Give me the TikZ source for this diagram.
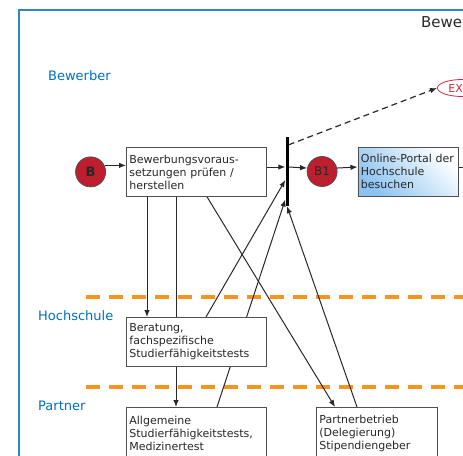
\documentclass[tikz,border=0pt]{standalone}
\usepackage{fontspec}
\setmainfont{DejaVu Sans}
\usetikzlibrary{arrows.meta}
\usetikzlibrary{positioning}
\usetikzlibrary{shapes.geometric}
\definecolor{poolblue}{RGB}{46,134,204}
\definecolor{lanetext}{RGB}{0,112,192}
\definecolor{laneorange}{RGB}{247,148,30}
\definecolor{eventred}{RGB}{190,30,45}
\definecolor{exitred}{RGB}{205,40,60}
\definecolor{portalblue}{RGB}{140,195,240}
\definecolor{boxgray}{RGB}{80,80,80}
\definecolor{textgray}{RGB}{40,40,40}
\pgfdeclarelayer{background}
\pgfsetlayers{background,main}
\tikzset {
  flow path/.style = {
    draw = textgray,
    line width = 1pt
  },
  % path style with an arrow at the end
  arr/.style = {
    flow path,
    -{Latex[length=7pt,width=5.5pt]}
  },
  % path style with no arrows
  narr/.style = {
    flow path
  },
  % message to an end point
  darr/.style = {
    arr,
    line width = 1.2pt,
    dash pattern = on 6pt off 4pt
  }
}
\tikzset {
  task/.style = {
    draw = boxgray,
    fill = white,
    line width = 0.8pt,
    rectangle,
    anchor = north west,
    inner sep = 3pt,
    text width = 134pt,
    minimum height = 49pt,
    align = left,
    text = textgray,
    font = \fontsize{11}{13}\selectfont
  },
  % box running off the bottom of the page
  open task/.style = {
    task,
    minimum height = 52pt
  },
  portal/.style = {
    task,
    text width = 94pt,
    top color = white,
    bottom color = portalblue,
    shading angle = -45
  },
  % start and intermediate events
  event/.style = {
    circle,
    draw = boxgray,
    fill = eventred,
    line width = 0.8pt,
    minimum size = 30pt,
    inner sep = 0,
    text = textgray,
    font = \fontsize{12}{14}\selectfont
  },
  exit/.style = {
    ellipse,
    draw = exitred,
    line width = 0.8pt,
    anchor = west,
    inner sep = 0,
    text width = 28pt,
    minimum width = 50pt,
    minimum height = 17pt,
    align = left,
    text = exitred,
    font = \fontsize{11}{13}\selectfont
  },
  % parallel gateway bar
  sync bar/.style = {
    rectangle,
    fill = black,
    inner sep = 0,
    minimum width = 3pt,
    minimum height = 69pt
  },
  lane/.style = {
    anchor = west,
    inner sep = 0,
    text = lanetext,
    font = \fontsize{13}{15}\selectfont
  },
  lane sep/.style = {
    draw = laneorange,
    line width = 3.5pt,
    dash pattern = on 14pt off 9pt
  },
  node distance = 20pt
}

\begin{document}
\begin{tikzpicture}[x=1pt, y=-1pt]
    \useasboundingbox (0,0) rectangle (463,455);
    \clip (0,0) rectangle (463,455);

    % pool and lanes
    \draw[poolblue, line width=1.5pt] (19,470) -- (19,10) -- (480,10);
    \node[anchor=west, inner sep=0, text=textgray, font=\fontsize{15}{17}\selectfont]
      (pool-title) at (421,22) {Bewe};
    \node[lane] (lane-bewerber) at (48,76) {Bewerber};
    \node[lane] (lane-hochschule) at (38,316) {Hochschule};
    \node[lane] (lane-partner) at (38,406) {Partner};
    \begin{pgfonlayer}{background}
      \draw[lane sep] (86,297) -- (480,297);
      \draw[lane sep] (86,387) -- (480,387);
    \end{pgfonlayer}

    \coordinate (flow) at (0,167);
    \coordinate (portal-out) at (480,167);

    \node[task] (pruefen) at (126,147) {Bewerbungsvoraus-\\setzungen prüfen /\\herstellen};
    \node[event, font=\fontsize{13}{15}\selectfont\bfseries] (start) [left=of pruefen] {B};
    \node[sync bar] (sync) at (287,171.5) {};
    \node[event] (b1) [right=18pt of sync] {B1};
    \node[portal, anchor=west] (portal) [right=of b1] {Online-Portal der\\Hochschule\\besuchen};
    \node[exit] (ex) at (437,88) {EX};

    \node[task] (beratung) at (126,317) {Beratung,\\fachspezifische\\Studierfähigkeitstests};
    \node[open task] (allgemein) at (126,407) {Allgemeine\\Studierfähigkeitstests,\\Medizinertest};
    \node[open task, text width=115pt] (partner) at (316,407) {Partnerbetrieb\\(Delegierung)\\Stipendiengeber};

    \begin{pgfonlayer}{background}
      \draw[arr] (start.25) -- (start.25 -| pruefen.west);
      \draw[arr] (pruefen.east |- flow) -- (sync.west |- flow);
      \draw[arr] (sync.east |- flow) -- (b1.167);
      \draw[arr] (b1.13) -- (portal.west |- flow);
      \draw[narr] (portal.east |- flow) -- (portal-out);
      \draw[darr] ([yshift=-8pt]sync.north east) -- (ex.west);

      \draw[arr] ([xshift=21pt]pruefen.south west) -- ([xshift=21pt]beratung.north west);
      \draw[narr] ([xshift=50pt]beratung.north west) -- ([xshift=50pt]pruefen.south west);
      \draw[arr] ([xshift=81pt]pruefen.south west) -- ([xshift=19pt]partner.north west);
      \draw[arr] ([xshift=50pt]beratung.south west) -- ([xshift=50pt]allgemein.north west);

      \draw[arr] ([xshift=80pt]beratung.north west) -- ([yshift=-8.5pt]sync.west);
      \draw[arr] ([xshift=91pt]allgemein.north west) -- ([yshift=-28pt]sync.west);
      \draw[arr] ([xshift=41pt]partner.north west) -- (sync.south);
    \end{pgfonlayer}
  \end{tikzpicture}
\end{document}
